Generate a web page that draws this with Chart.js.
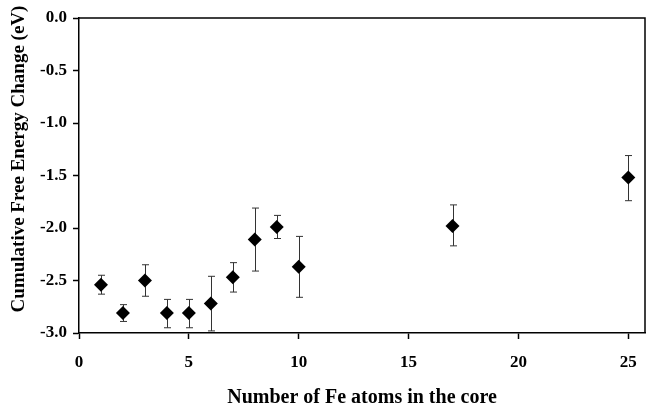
<!DOCTYPE html>
<html>
<head>
<meta charset="utf-8">
<script src="https://cdn.jsdelivr.net/npm/chart.js@4/dist/chart.umd.min.js"></script>
<style>
html,body{margin:0;padding:0;background:#fff;}
#wrap{width:647px;height:408px;}
</style>
</head>
<body>
<div id="wrap"><canvas id="c" width="647" height="408"></canvas></div>
<script>
const feAtoms = [1, 2, 3, 4, 5, 6, 7, 8, 9, 10, 17, 25];
const energyChange = [-2.54, -2.81, -2.50, -2.81, -2.81, -2.72, -2.47, -2.11, -1.99, -2.37, -1.98, -1.52];
const errUpper = [0.09, 0.08, 0.15, 0.13, 0.13, 0.26, 0.14, 0.30, 0.11, 0.29, 0.20, 0.21];
const errLower = [0.09, 0.08, 0.15, 0.14, 0.14, 0.26, 0.14, 0.30, 0.11, 0.29, 0.19, 0.22];
const xTicks = [0, 5, 10, 15, 20, 25];
const yTicks = [0.0, -0.5, -1.0, -1.5, -2.0, -2.5, -3.0];
const yTitle = 'Cumulative Free Energy Change (eV)';
const xTitle = 'Number of Fe atoms in the core';

const points = feAtoms.map((x, i) => ({x: x, y: energyChange[i]}));
const serifFamily = '"Liberation Serif", "Times New Roman", serif';

const errorBars = {
  id: 'errorBars',
  beforeDatasetsDraw(chart) {
    const ctx = chart.ctx, xs = chart.scales.x, ys = chart.scales.y;
    ctx.save();
    ctx.strokeStyle = '#333';
    ctx.lineWidth = 1;
    points.forEach((p, i) => {
      const px = Math.round(xs.getPixelForValue(p.x)) + 0.5;
      const top = ys.getPixelForValue(p.y + errUpper[i]);
      const bot = ys.getPixelForValue(p.y - errLower[i]);
      ctx.beginPath();
      ctx.moveTo(px, top); ctx.lineTo(px, bot);
      ctx.moveTo(px - 3.5, top); ctx.lineTo(px + 3.5, top);
      ctx.moveTo(px - 3.5, bot); ctx.lineTo(px + 3.5, bot);
      ctx.stroke();
    });
    ctx.restore();
  }
};

const frame = {
  id: 'frame',
  afterDraw(chart) {
    const a = chart.chartArea, ctx = chart.ctx;
    ctx.save();
    ctx.strokeStyle = '#000';
    ctx.lineWidth = 1.5;
    ctx.beginPath();
    ctx.moveTo(a.left, a.top); ctx.lineTo(a.right, a.top); ctx.lineTo(a.right, a.bottom);
    ctx.stroke();
    ctx.fillStyle = '#000';
    ctx.font = 'bold 19px ' + serifFamily;
    ctx.textAlign = 'center';
    ctx.textBaseline = 'middle';
    ctx.translate(19, 159);
    ctx.rotate(-Math.PI / 2);
    ctx.fillText(yTitle, 0, 0);
    ctx.restore();
  }
};

const serifBold = {family: serifFamily, weight: 'bold'};

new Chart(document.getElementById('c'), {
  type: 'scatter',
  data: {
    datasets: [{
      data: points,
      pointStyle: 'rectRot',
      pointRadius: 7,
      pointHoverRadius: 7,
      backgroundColor: '#000',
      borderColor: '#000',
      borderWidth: 0
    }]
  },
  options: {
    responsive: false,
    animation: false,
    events: [],
    layout: {autoPadding: false, padding: {top: 18, right: 2, left: 0, bottom: 0}},
    plugins: {legend: {display: false}, tooltip: {enabled: false}},
    scales: {
      x: {
        type: 'linear',
        min: 0,
        max: 25.76,
        afterBuildTicks(scale) { scale.ticks = xTicks.map(v => ({value: v})); },
        afterFit(scale) { scale.height = 75; scale.paddingLeft = 0; scale.paddingRight = 0; },
        ticks: {
          color: '#000',
          padding: 13,
          font: Object.assign({size: 17}, serifBold),
          callback: v => String(v)
        },
        grid: {display: true, drawOnChartArea: false, drawTicks: true, tickLength: 6, color: '#000', tickWidth: 1.5},
        border: {display: true, color: '#000', width: 1.5},
        title: {
          display: true,
          text: xTitle,
          color: '#000',
          font: Object.assign({size: 20, lineHeight: 1}, serifBold),
          padding: {top: 0, bottom: 0}
        }
      },
      y: {
        type: 'linear',
        min: -3,
        max: 0,
        afterBuildTicks(scale) { scale.ticks = yTicks.map(v => ({value: v})); },
        afterFit(scale) { scale.width = 79; scale.paddingTop = 0; scale.paddingBottom = 0; scale.paddingLeft = 0; scale.paddingRight = 0; },
        ticks: {
          color: '#000',
          padding: 6,
          font: Object.assign({size: 17}, serifBold),
          callback: v => Number(v).toFixed(1)
        },
        grid: {display: true, drawOnChartArea: false, drawTicks: true, tickLength: 6, color: '#000', tickWidth: 1.5},
        border: {display: true, color: '#000', width: 1.5},
        title: {display: false}
      }
    }
  },
  plugins: [errorBars, frame]
});
</script>
</body>
</html>
